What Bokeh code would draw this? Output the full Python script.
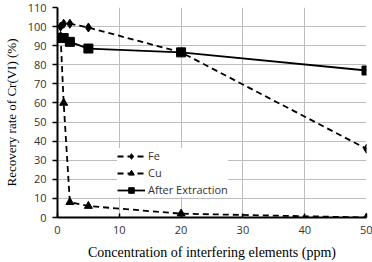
from bokeh.plotting import figure
from bokeh.models import Legend, LegendItem, Range1d, FixedTicker
from bokeh.embed import file_html
from bokeh.resources import INLINE

x_vals = [0.5, 1, 2, 5, 20, 50]
fe = [100, 101.5, 101.5, 99.5, 86.5, 36]
cu = [95, 60, 8, 6, 2, 0]
after = [94, 94, 92, 88.5, 86.5, 77]

x_ticks = [0, 10, 20, 30, 40, 50]
y_ticks = list(range(0, 111, 10))

p = figure(width=372, height=262, output_backend="svg", toolbar_location=None,
           x_range=Range1d(0, 50), y_range=Range1d(0, 110),
           min_border_left=55, min_border_right=6, min_border_top=7, min_border_bottom=45)
p.outline_line_color = None
p.background_fill_color = "white"
p.border_fill_color = "white"

for ax in (p.xaxis[0], p.yaxis[0]):
    ax.axis_line_width = 2
    ax.axis_line_color = "black"
    ax.major_tick_line_color = "black"
    ax.major_tick_line_width = 1.5
    ax.minor_tick_line_color = None
    ax.major_label_text_font = "Open Sans"
    ax.major_label_text_font_size = "11px"
    ax.major_label_text_color = "#333333"
    ax.axis_label_text_font = "Liberation Serif"
    ax.axis_label_text_font_style = "normal"
    ax.axis_label_text_color = "black"

p.xaxis.axis_label_text_font_size = "14px"
p.yaxis.axis_label_text_font_size = "13px"
p.xaxis.ticker = FixedTicker(ticks=x_ticks)
p.yaxis.ticker = FixedTicker(ticks=y_ticks)
p.xaxis.major_tick_in = 4
p.xaxis.major_tick_out = 0
p.yaxis.major_tick_in = 0
p.yaxis.major_tick_out = 5
p.xaxis.major_label_standoff = 8
p.yaxis.major_label_standoff = 6
p.xaxis.axis_label = "Concentration of interfering elements (ppm)"
p.yaxis.axis_label = "Recovery rate of Cr(VI) (%)"
p.xaxis.axis_label_standoff = 8
p.yaxis.axis_label_standoff = 6

p.grid.grid_line_color = "#bdbdbd"
p.grid.grid_line_width = 1

fe_l = p.line(x_vals, fe, line_color="black", line_width=1.8, line_dash="6 4")
fe_m = p.scatter(x_vals, fe, marker="diamond", size=9, color="black")
cu_l = p.line(x_vals, cu, line_color="black", line_width=1.8, line_dash="6 4")
cu_m = p.scatter(x_vals, cu, marker="triangle", size=8, color="black")
af_l = p.line(x_vals, after, line_color="black", line_width=1.8)
af_m = p.scatter(x_vals, after, marker="square", size=9, color="black")

legend = Legend(items=[
    LegendItem(label="Fe", renderers=[fe_l, fe_m]),
    LegendItem(label="Cu", renderers=[cu_l, cu_m]),
    LegendItem(label="After Extraction", renderers=[af_l, af_m]),
], location=(60, 20))
legend.background_fill_color = "white"
legend.background_fill_alpha = 1
legend.border_line_color = None
legend.label_text_font = "Open Sans"
legend.label_text_font_size = "11px"
legend.label_text_color = "#333333"
legend.glyph_width = 28
legend.glyph_height = 14
legend.label_height = 14
legend.spacing = 2
legend.padding = 6
legend.margin = 0
legend.label_standoff = 3
p.add_layout(legend, "center")

open("out.html", "w").write(file_html(p, INLINE))
